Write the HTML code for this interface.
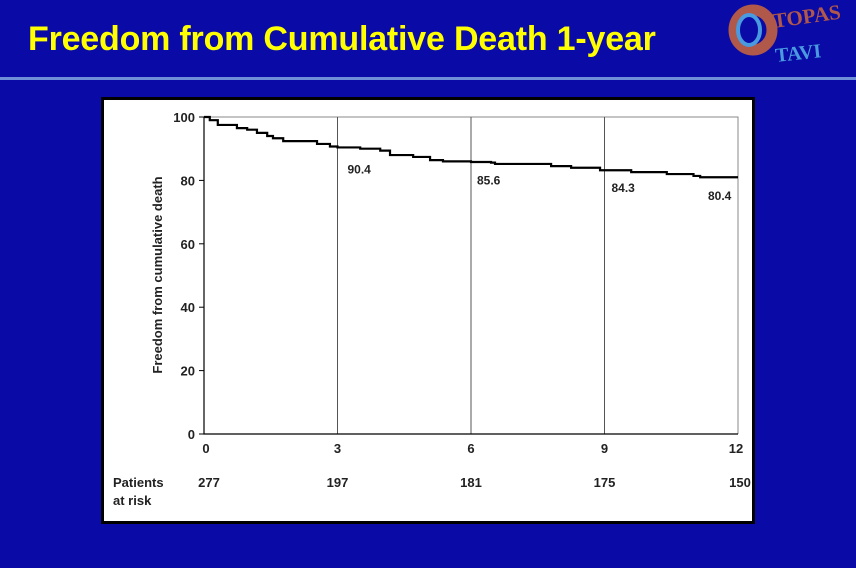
<!DOCTYPE html>
<html><head><meta charset="utf-8"><style>
body{margin:0;width:856px;height:568px;background:#0a0aa6;overflow:hidden;font-family:"Liberation Sans",sans-serif;position:relative}
.title{position:absolute;left:28px;top:20px;color:#ffff00;font-weight:bold;font-size:34px;letter-spacing:-0.2px}
.rule{position:absolute;left:0;top:77px;width:856px;height:3px;background:#6f8fd8}
.panel{position:absolute;left:101px;top:97px;width:648px;height:421px;background:#fff;border:3px solid #000;box-sizing:content-box}
</style></head><body>
<div class="title">Freedom from Cumulative Death 1-year</div>
<div class="rule"></div>
<svg style="position:absolute;left:720px;top:0" width="136" height="76">
<ellipse cx="33" cy="30" rx="19" ry="20" fill="none" stroke="#b0584a" stroke-width="11"/>
<ellipse cx="29" cy="30" rx="11" ry="15" fill="none" stroke="#4a9ae0" stroke-width="4"/>
<text x="54" y="28" fill="#b0584a" font-family="Liberation Serif" font-size="21" font-weight="bold" transform="rotate(-8 54 28)">TOPAS</text>
<text x="56" y="62" fill="#4a9ae0" font-family="Liberation Serif" font-size="20" font-weight="bold" transform="rotate(-6 56 62)">TAVI</text>
</svg>
<div class="panel"></div>
<svg id="chart" style="position:absolute;left:0;top:0" width="856" height="568"></svg>
<script>
const months=[0,0.13,0.31,0.74,0.97,1.19,1.42,1.55,1.78,2.54,2.83,3.0,3.51,3.96,4.18,4.70,5.08,5.37,6.0,6.45,6.54,7.8,8.25,8.9,9.6,10.4,11.0,11.15];
const survival=[100,99,97.5,96.5,96,95,94,93.3,92.4,91.5,90.7,90.4,90,89.4,88,87.4,86.4,86,85.8,85.6,85.2,84.5,84,83.2,82.6,82,81.4,81];
const xTicks=[0,3,6,9,12];
const yTicks=[0,20,40,60,80,100];
const atRisk=[277,197,181,175,150];
const markMonths=[3,6,9,12];
const markLabels=["90.4","85.6","84.3","80.4"];
const markValues=[90.4,85.6,84.3,80.4];
const NS="http://www.w3.org/2000/svg";
const svg=document.getElementById('chart');
const X=m=>204+m*(738-204)/12;
const Y=v=>434-v*(434-117)/100;
function mk(t,a,txt){const e=document.createElementNS(NS,t);for(const k in a)e.setAttribute(k,a[k]);if(txt!==undefined)e.textContent=txt;svg.appendChild(e);return e;}
const F='"Liberation Sans",sans-serif';
let e=mk('path',{d:`M${X(0)},${Y(100)}H${X(12)}V${Y(0)}`,fill:'none',stroke:'#888','stroke-width':1});


[3,6,9].forEach(m=>{const g=mk('line',{x1:X(m),x2:X(m),y1:Y(100),y2:Y(0),stroke:'#555','stroke-width':1});

});
e=mk('path',{d:`M${X(0)},${Y(100)}V${Y(0)}H${X(12)}`,fill:'none',stroke:'#000','stroke-width':1.2});


yTicks.forEach(v=>{const l=mk('line',{x1:X(0)-5,x2:X(0),y1:Y(v),y2:Y(v),stroke:'#000'});


const t=mk('text',{x:195,y:Y(v)+5,'text-anchor':'end','font-family':F,'font-weight':'bold','font-size':13,fill:'#222'},v);

});
xTicks.forEach((m,i)=>{const t=mk('text',{x:X(m)+(i==0?2:i==4?-2:0),y:453,'text-anchor':'middle','font-family':F,'font-weight':'bold','font-size':13,fill:'#222'},m);


const r=mk('text',{x:X(m)+(i==0?5:i==4?2:0),y:487,'text-anchor':'middle','font-family':F,'font-weight':'bold','font-size':13,fill:'#222'},atRisk[i]);

});
e=mk('text',{x:113,y:487,'font-family':F,'font-weight':'bold','font-size':13,fill:'#222'},'Patients');


e=mk('text',{x:113,y:505,'font-family':F,'font-weight':'bold','font-size':13,fill:'#222'},'at risk');


e=mk('text',{x:0,y:0,transform:'translate(162,275) rotate(-90)','text-anchor':'middle','font-family':F,'font-weight':'bold','font-size':13,fill:'#222'},'Freedom from cumulative death');


let d=`M${X(months[0])},${Y(survival[0])}`;
for(let i=1;i<months.length;i++){d+=`H${X(months[i])}V${Y(survival[i])}`;}
d+=`H${X(12)}`;
e=mk('path',{d:d,fill:'none',stroke:'#000','stroke-width':2.2});


const offs=[[10,26],[6,22],[7,25],[-30,21]];
markMonths.forEach((m,i)=>{const t=mk('text',{x:X(m)+offs[i][0],y:Y(markValues[i])+offs[i][1],'font-family':F,'font-weight':'bold','font-size':12,fill:'#222'},markLabels[i]);

});
</script>
</body></html>
